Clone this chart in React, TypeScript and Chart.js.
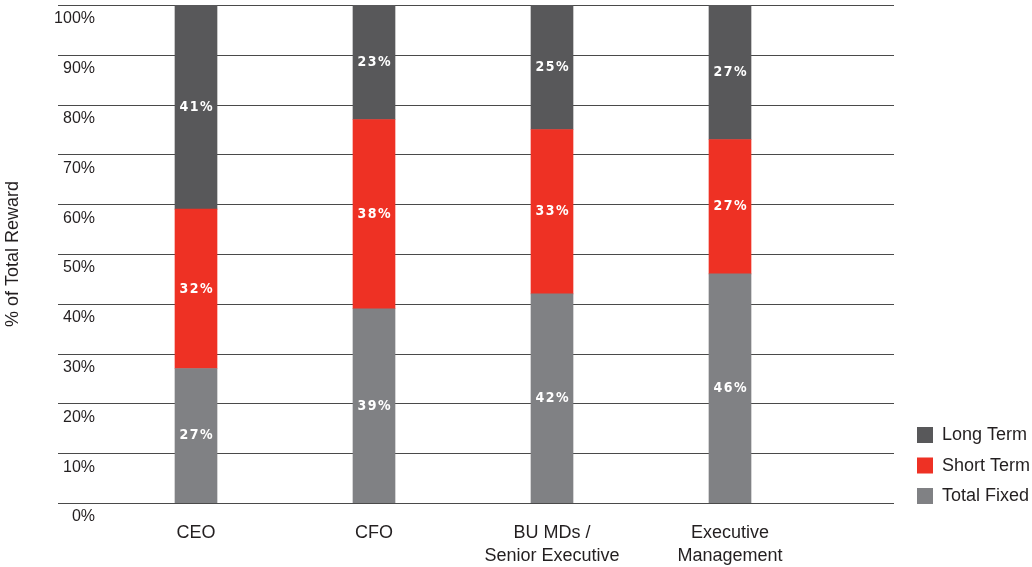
import React, { useEffect, useRef } from "react";
import { Chart, registerables } from "chart.js";

Chart.register(...registerables);

// Reward mix by role (% of total reward)
const categories: (string | string[])[] = [
  "CEO",
  "CFO",
  ["BU MDs /", "Senior Executive"],
  ["Executive", "Management"],
];
const totalFixed = [27, 39, 42, 46];
const shortTerm = [32, 38, 33, 27];
const longTerm = [41, 23, 25, 27];
const yTicks = [0, 10, 20, 30, 40, 50, 60, 70, 80, 90, 100];

const COLORS = {
  fixed: "#808184",
  short: "#ee3124",
  long: "#58585a",
  text: "#231f20",
  grid: "#4a4a4a",
};

// Horizontal rules spanning wider than the plot area, behind the bars
const gridPlugin = {
  id: "wideGrid",
  beforeDatasetsDraw(chart: any) {
    const { ctx } = chart;
    const y = chart.scales.y;
    ctx.save();
    ctx.strokeStyle = COLORS.grid;
    ctx.lineWidth = 1.2;
    yTicks.forEach((v) => {
      const py = Math.round(y.getPixelForValue(v)) + 0.5;
      ctx.beginPath();
      ctx.moveTo(58, py);
      ctx.lineTo(894, py);
      ctx.stroke();
    });
    ctx.restore();
  },
};

// White percentage labels in the middle of each segment
const valueLabelPlugin = {
  id: "valueLabels",
  afterDatasetsDraw(chart: any) {
    const { ctx } = chart;
    ctx.save();
    ctx.fillStyle = "#ffffff";
    ctx.font = 'bold 14px "Liberation Sans Narrow", "DejaVu Sans Condensed", "Liberation Sans", sans-serif';
    ctx.textAlign = "center";
    ctx.textBaseline = "middle";
    (ctx as any).letterSpacing = "1.5px";
    chart.data.datasets.forEach((ds: any, di: number) => {
      const meta = chart.getDatasetMeta(di);
      meta.data.forEach((bar: any, i: number) => {
        const v = ds.data[i];
        const cy = (bar.y + bar.base) / 2;
        ctx.fillText(v + "%", bar.x + 0.75, cy);
      });
    });
    ctx.restore();
  },
};

// Legend in the lower right, long term on top
const legendPlugin = {
  id: "sideLegend",
  afterDraw(chart: any) {
    const { ctx } = chart;
    const order = [2, 1, 0];
    ctx.save();
    ctx.font = '18px "Liberation Sans", Arial, sans-serif';
    ctx.textAlign = "left";
    ctx.textBaseline = "middle";
    order.forEach((di, row) => {
      const ds = chart.data.datasets[di];
      const top = 427 + row * 30.5;
      ctx.fillStyle = ds.backgroundColor;
      ctx.fillRect(917, top, 16, 16);
      ctx.fillStyle = COLORS.text;
      ctx.fillText(ds.label, 942, top + 8.5);
    });
    ctx.restore();
  },
};

export default function App() {
  const canvasRef = useRef<HTMLCanvasElement | null>(null);

  useEffect(() => {
    if (!canvasRef.current) return;
    const chart = new Chart(canvasRef.current, {
      type: "bar",
      data: {
        labels: categories as any,
        datasets: [
          { label: "Total Fixed", data: totalFixed, backgroundColor: COLORS.fixed },
          { label: "Short Term", data: shortTerm, backgroundColor: COLORS.short },
          { label: "Long Term", data: longTerm, backgroundColor: COLORS.long },
        ],
      },
      options: {
        animation: false,
        responsive: true,
        maintainAspectRatio: false,
        layout: { padding: { top: 5, right: 213, left: 0, bottom: 0 } },
        datasets: { bar: { barThickness: 42 } },
        plugins: {
          legend: { display: false },
          tooltip: { enabled: false },
        },
        scales: {
          x: {
            stacked: true,
            grid: { display: false },
            border: { display: false },
            ticks: {
              color: COLORS.text,
              padding: 10,
              maxRotation: 0,
              autoSkip: false,
              font: { family: '"Liberation Sans", Arial, sans-serif', size: 18, lineHeight: 1.3 },
            },
            afterFit: (scale: any) => {
              scale.height = 64;
              scale.paddingLeft = 0;
              scale.paddingRight = 0;
            },
          },
          y: {
            stacked: true,
            min: 0,
            max: 100,
            grid: { display: false },
            border: { display: false },
            ticks: {
              stepSize: 10,
              color: COLORS.text,
              padding: 4,
              labelOffset: 14,
              font: { family: '"Liberation Sans", Arial, sans-serif', size: 16 },
              callback: (v: any) => v + "%",
            },
            title: {
              display: true,
              text: "% of Total Reward",
              color: COLORS.text,
              padding: { top: 2, bottom: 0 },
              font: { family: '"Liberation Sans", Arial, sans-serif', size: 18, lineHeight: 1.2 },
            },
            afterFit: (scale: any) => {
              scale.width = 107;
              scale.paddingTop = 0;
              scale.paddingBottom = 0;
            },
          },
        },
      },
      plugins: [gridPlugin, valueLabelPlugin, legendPlugin],
    });
    return () => chart.destroy();
  }, []);

  return (
    <div style={{ position: "absolute", left: 0, top: 0, width: 1032, height: 567, background: "#ffffff" }}>
      <canvas ref={canvasRef} />
    </div>
  );
}
